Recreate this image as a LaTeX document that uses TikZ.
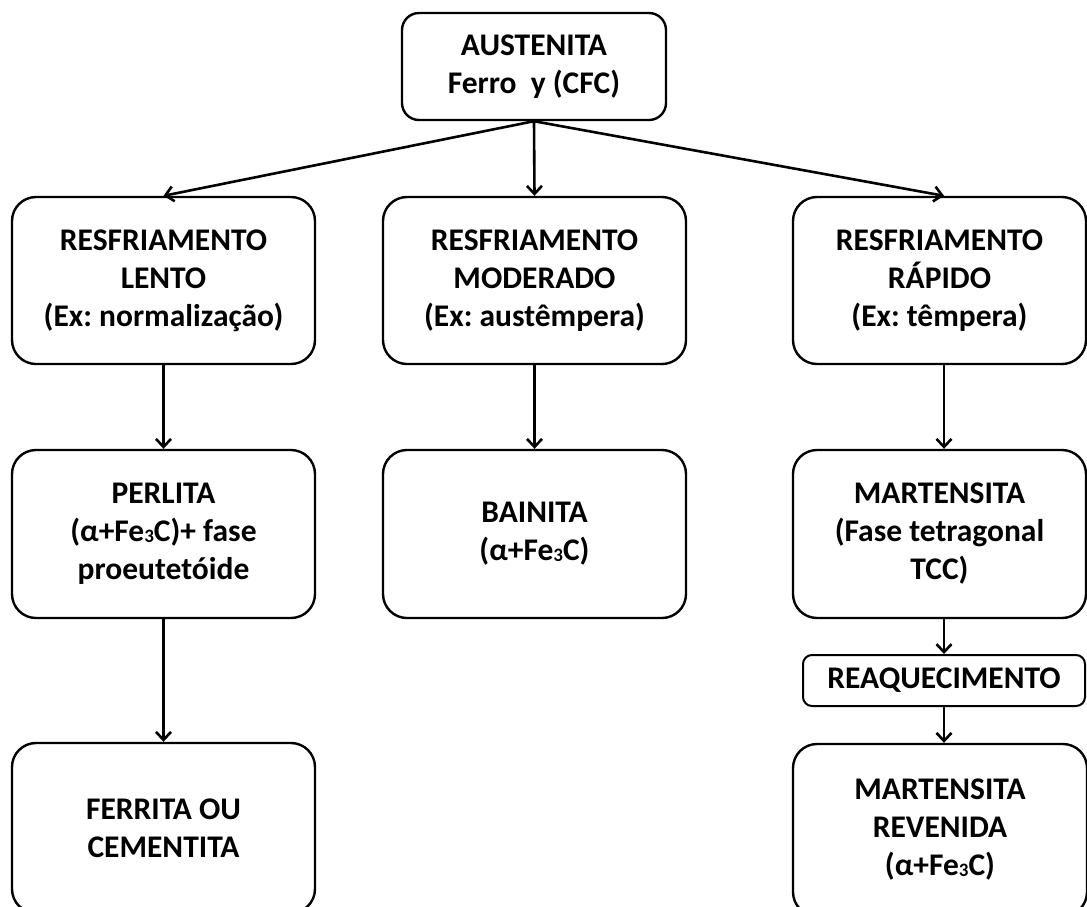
\documentclass[tikz,border=0pt]{standalone}
\usepackage{fontspec}
\setmainfont{Carlito}
\frenchspacing
\usetikzlibrary{arrows.meta}
\tikzset{
  box/.style={draw=black, line width=2.4pt, rounded corners=24pt, align=center, inner sep=0pt,
    font=\fontsize{31.5}{38}\selectfont\bfseries},
  topbox/.style={box, rounded corners=17pt},
  smallbox/.style={box, rounded corners=9pt, line width=2pt},
  arr/.style={line width=2.6pt, -{Straight Barb[length=8pt,width=15pt,line width=2.6pt]}},
}
\newcommand{\fec}{(α+Fe\raisebox{-1pt}{\fontsize{19}{19}\selectfont 3}C)}
\begin{document}
\begin{tikzpicture}[x=1pt,y=-1pt]
\useasboundingbox (0,0) rectangle (1087,906);
\clip (0,0) rectangle (1087,906);
\fill[white] (0,0) rectangle (1087,906);
\node[topbox, minimum width=264pt, minimum height=107pt] (top) at (534,66.5) {AUSTENITA\\Ferro\ \ y (CFC)};
\node[box, minimum width=303pt, minimum height=167pt] (lento) at (163.5,280.5) {RESFRIAMENTO\\LENTO\\(Ex: normalização)};
\node[box, minimum width=303pt, minimum height=167pt] (mod) at (534.5,280.5) {RESFRIAMENTO\\MODERADO\\(Ex: austêmpera)};
\node[box, minimum width=293pt, minimum height=167pt] (rap) at (939.5,280.5) {RESFRIAMENTO\\RÁPIDO\\(Ex: têmpera)};
\node[box, minimum width=303pt, minimum height=168pt] (perl) at (163.5,534) {PERLITA\\\fec+ fase\\proeutetóide};
\node[box, minimum width=303pt, minimum height=168pt] (bain) at (534.5,534) {BAINITA\\\fec};
\node[box, minimum width=293pt, minimum height=168pt] (mart) at (939.5,534) {MARTENSITA\\(Fase tetragonal\\TCC)};
\node[smallbox, minimum width=282pt, minimum height=51pt] (reaq) at (944,680.5) {REAQUECIMENTO};
\node[box, minimum width=303pt, minimum height=170pt] (ferr) at (163.5,828) {FERRITA OU\\CEMENTITA};
\node[box, minimum width=294pt, minimum height=172pt] (rev) at (940,830) {MARTENSITA\\REVENIDA\\\fec};
\draw[arr] (top.south) -- (lento.north);
\draw[arr] (top.south) -- (mod.north);
\draw[arr] (top.south) -- (reaq.north |- rap.north);
\draw[arr] (lento.south) -- (perl.north);
\draw[arr] (mod.south) -- (bain.north);
\draw[arr] (reaq.north |- rap.south) -- (reaq.north |- mart.north);
\draw[arr] (perl.south) -- (ferr.north);
\draw[arr] (reaq.north |- mart.south) -- (reaq.north);
\draw[arr] (reaq.south) -- (reaq.south |- rev.north);
\end{tikzpicture}
\end{document}
